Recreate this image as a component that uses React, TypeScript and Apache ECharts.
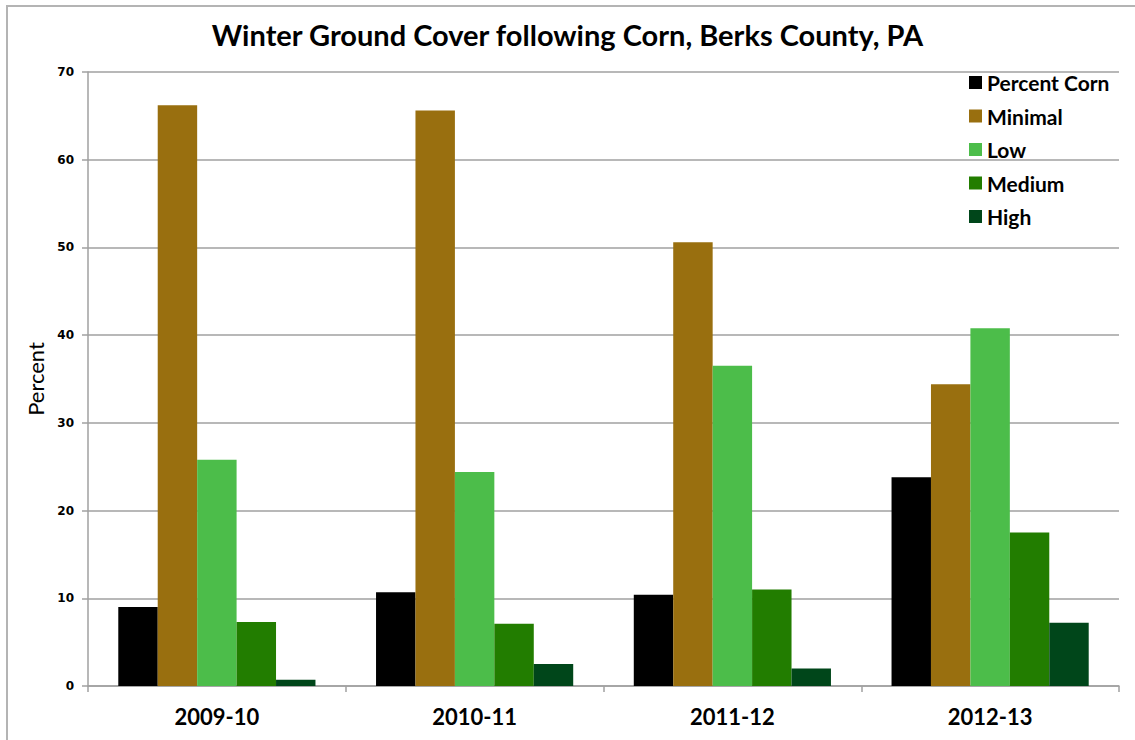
import React, { useEffect, useRef } from "react";
import * as echarts from "echarts";

const categories = ["2009-10", "2010-11", "2011-12", "2012-13"];
const seriesNames = ["Percent Corn", "Minimal", "Low", "Medium", "High"];
const percentCorn = [9.0, 10.7, 10.4, 23.8];
const minimal = [66.2, 65.6, 50.6, 34.4];
const low = [25.8, 24.4, 36.5, 40.8];
const medium = [7.3, 7.1, 11.0, 17.5];
const high = [0.7, 2.5, 2.0, 7.2];
const colors = ["#000000", "#996F0F", "#4CBD4A", "#227D00", "#00461A"];
const yTicks = { min: 0, max: 70, interval: 10 };

export default function App() {
  const ref = useRef<HTMLDivElement>(null);
  useEffect(() => {
    document.body.style.margin = "0";
    if (!ref.current) return;
    const chart = echarts.init(ref.current, undefined, { renderer: "svg" });
    const values = [percentCorn, minimal, low, medium, high];
    chart.setOption({
      animation: false,
      backgroundColor: "#ffffff",
      title: {
        text: "Winter Ground Cover following Corn, Berks County, PA",
        left: "center",
        top: 15,
        textStyle: { fontFamily: "Lato", fontWeight: "bold", fontSize: 29, color: "#000" },
      },
      graphic: [
        {
          type: "rect",
          shape: { x: 7, y: 6, width: 1300, height: 900 },
          style: { fill: "none", stroke: "#b4b4b4", lineWidth: 2 },
          silent: true,
        },
      ],
      legend: {
        orient: "vertical",
        left: 964,
        top: 67,
        itemWidth: 13,
        itemHeight: 13,
        itemGap: 12.5,
        icon: "rect",
        data: seriesNames,
        textStyle: { fontFamily: "Lato", fontWeight: "bold", fontSize: 21, color: "#000" },
      },
      grid: { left: 88, right: 16, top: 72, bottom: 54, containLabel: false },
      xAxis: {
        type: "category",
        data: categories,
        axisLine: { lineStyle: { color: "#a0a0a0", width: 1.5 } },
        axisTick: { show: true, length: 6, lineStyle: { color: "#a0a0a0", width: 1.5 } },
        axisLabel: { fontFamily: "Lato", fontWeight: "bold", fontSize: 22, color: "#000", margin: 19 },
      },
      yAxis: {
        type: "value",
        min: yTicks.min,
        max: yTicks.max,
        interval: yTicks.interval,
        name: "Percent",
        nameLocation: "middle",
        nameGap: 42,
        nameTextStyle: { fontFamily: "Lato", fontSize: 22, color: "#000" },
        axisLine: { show: true, lineStyle: { color: "#a0a0a0", width: 1.5 } },
        axisTick: { show: true, length: 6, lineStyle: { color: "#a0a0a0", width: 1.5 } },
        axisLabel: { fontFamily: "DejaVu Sans", fontWeight: "bold", fontSize: 12, color: "#000", margin: 14 },
        splitLine: { lineStyle: { color: "#a0a0a0", width: 1.5 } },
      },
      series: seriesNames.map((name, i) => ({
        name,
        type: "bar",
        data: values[i],
        barGap: "0%",
        barCategoryGap: "23.5%",
        itemStyle: { color: colors[i] },
      })),
    });
    return () => chart.dispose();
  }, []);
  return <div ref={ref} style={{ width: 1135, height: 740 }} />;
}
